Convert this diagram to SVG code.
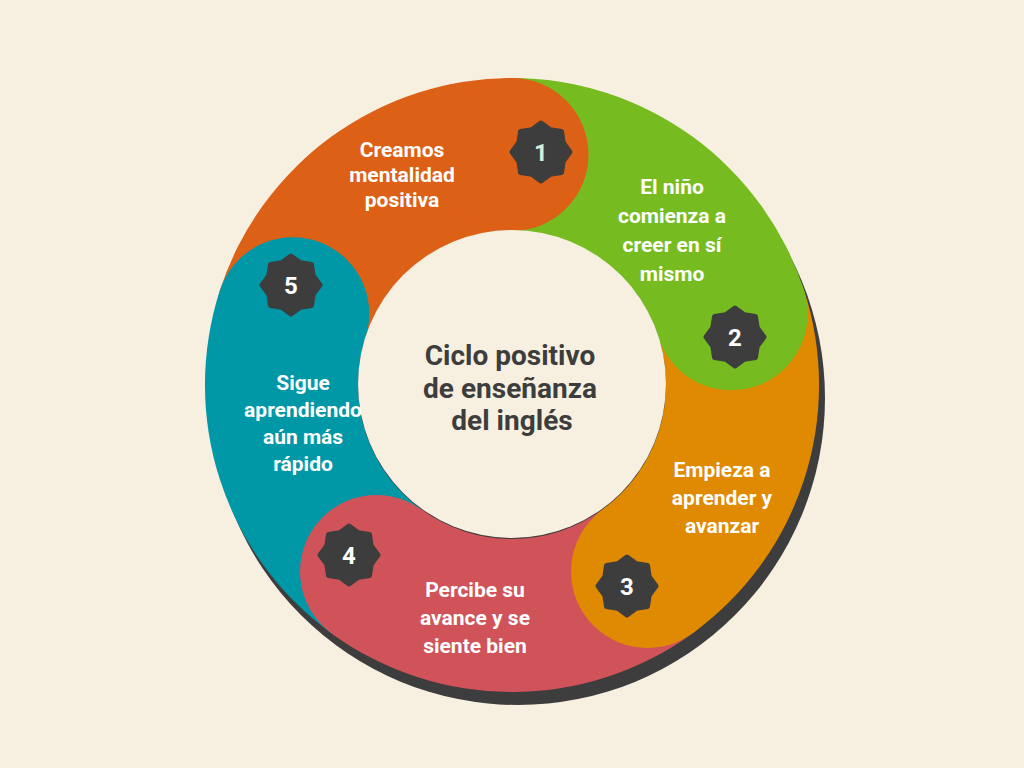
<svg xmlns="http://www.w3.org/2000/svg" width="1024" height="768" viewBox="0 0 1024 768">
<defs>
<style>
.t{font-family:Roboto,"Liberation Sans",sans-serif;font-weight:bold;font-size:21px;fill:#fff;text-anchor:middle}
.c{font-family:Roboto,"Liberation Sans",sans-serif;font-weight:bold;font-size:28px;fill:#3d3d3d;text-anchor:middle}
.n{font-family:Roboto,"Liberation Sans",sans-serif;font-weight:bold;font-size:24px;fill:#fff;text-anchor:middle}
.b{fill:#3d3d3d;stroke:#3d3d3d;stroke-width:5;stroke-linejoin:round}
</style>
<polygon id="star" points="0,-29 9.2,-22.2 20.5,-20.5 22.2,-9.2 29,0 22.2,9.2 20.5,20.5 9.2,22.2 0,29 -9.2,22.2 -20.5,20.5 -22.2,9.2 -29,0 -22.2,-9.2 -20.5,-20.5 -9.2,-22.2"/>
</defs>
<rect width="1024" height="768" fill="#f7f0e1"/>
<circle cx="518" cy="398" r="307" fill="#3d3d3d"/>
<g id="segments">
<path d="M220,290.1 A307,307 0 0 1 512,78 L512,231 A154,154 0 0 0 365.5,337.4 Z" fill="#dc6016"/>
<path d="M512,78 A307,307 0 0 1 804,290.1 L658.5,337.4 A154,154 0 0 0 512,231 Z" fill="#76bc21"/>
<path d="M804,290.1 A307,307 0 0 1 692.5,633.4 L602.5,509.6 A154,154 0 0 0 658.5,337.4 Z" fill="#df8a00"/>
<path d="M692.5,633.4 A307,307 0 0 1 331.5,633.4 L421.5,509.6 A154,154 0 0 0 602.5,509.6 Z" fill="#d0535a"/>
<path d="M331.5,633.4 A307,307 0 0 1 220,290.1 L365.5,337.4 A154,154 0 0 0 421.5,509.6 Z" fill="#0097a7"/>
<circle cx="512" cy="154.5" r="76.5" fill="#dc6016"/>
<circle cx="731.2" cy="313.8" r="76.5" fill="#76bc21"/>
<circle cx="647.5" cy="571.5" r="76.5" fill="#df8a00"/>
<circle cx="376.5" cy="571.5" r="76.5" fill="#d0535a"/>
<circle cx="292.8" cy="313.8" r="76.5" fill="#0097a7"/>
</g>
<circle id="center" cx="512" cy="384" r="154" fill="#f7efe0"/>
<text class="c" x="510" y="365">Ciclo positivo</text>
<text class="c" x="510" y="398">de enseñanza</text>
<text class="c" x="512" y="430">del inglés</text>
<g id="n1"><use href="#star" class="b" x="541" y="152"/><text class="n" x="541" y="161" style="fill:#d6eedd">1</text>
<text class="t" x="402" y="157">Creamos</text><text class="t" x="402" y="182">mentalidad</text><text class="t" x="402" y="207">positiva</text></g>
<g id="n2"><use href="#star" class="b" x="735" y="337"/><text class="n" x="735" y="346">2</text>
<text class="t" x="672" y="194">El niño</text><text class="t" x="672" y="223">comienza a</text><text class="t" x="672" y="252">creer en sí</text><text class="t" x="672" y="281">mismo</text></g>
<g id="n3"><use href="#star" class="b" x="627" y="586"/><text class="n" x="627" y="595">3</text>
<text class="t" x="722" y="477">Empieza a</text><text class="t" x="722" y="505">aprender y</text><text class="t" x="722" y="533">avanzar</text></g>
<g id="n4"><use href="#star" class="b" x="349" y="555"/><text class="n" x="349" y="564">4</text>
<text class="t" x="475" y="597">Percibe su</text><text class="t" x="475" y="625">avance y se</text><text class="t" x="475" y="653">siente bien</text></g>
<g id="n5"><use href="#star" class="b" x="291" y="285"/><text class="n" x="291" y="294">5</text>
<text class="t" x="303" y="390">Sigue</text><text class="t" x="303" y="417">aprendiendo</text><text class="t" x="303" y="444">aún más</text><text class="t" x="303" y="471">rápido</text></g>
</svg>
